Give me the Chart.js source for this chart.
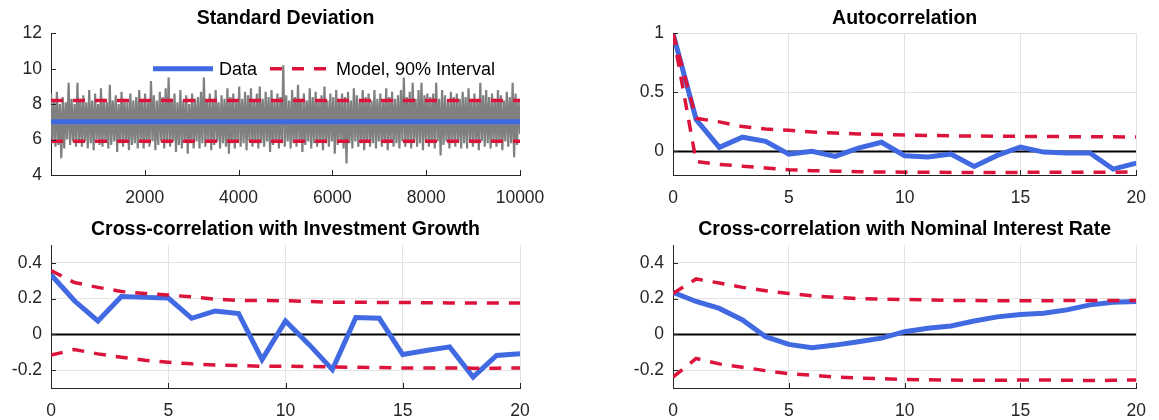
<!DOCTYPE html>
<html>
<head>
<meta charset="utf-8">
<title>Moments</title>
<script src="https://cdn.jsdelivr.net/npm/chart.js@4"></script>
<style>
  html, body { margin: 0; padding: 0; background: #fff; }
  #wrap { position: relative; width: 1159px; height: 420px; overflow: hidden; }
  .panel { position: absolute; }
  .panel canvas { display: block; }
</style>
</head>
<body>
<div id="wrap">
  <div class="panel" style="left:0;top:0"><canvas id="stdChart" width="580" height="210"></canvas></div>
  <div class="panel" style="left:580px;top:0"><canvas id="acfChart" width="579" height="210"></canvas></div>
  <div class="panel" style="left:0;top:210px"><canvas id="invChart" width="580" height="210"></canvas></div>
  <div class="panel" style="left:580px;top:210px"><canvas id="rateChart" width="579" height="210"></canvas></div>
</div>
<script>
// ---- data ----
const lags = [0, 1, 2, 3, 4, 5, 6, 7, 8, 9, 10, 11, 12, 13, 14, 15, 16, 17, 18, 19, 20];

// standard deviation panel
const stdDataLevel = 7.0;
const stdModelHigh = 8.2;
const stdModelLow = 5.9;
const stdRange = [1, 10000];
const stdXTicks = [2000, 4000, 6000, 8000, 10000];
const stdYTicks = [4, 6, 8, 10, 12];
// simulated std draws (high / low swings of the grey trace, left to right)
const stdSim = [
  8.6,5.8, 8.2,5.6, 8.7,5.7, 8.0,4.95, 8.4,5.5, 8.1,6.0, 9.2,5.7, 8.3,5.9, 8.0,5.6, 9.2,5.8,
  8.3,5.6, 8.5,5.9, 8.1,5.5, 8.8,5.8, 8.2,5.4, 8.6,6.0, 8.0,5.7, 8.9,5.6, 8.3,5.9, 8.1,5.5,
  9.1,5.7, 8.2,5.9, 8.5,5.3, 8.0,5.8, 8.7,5.6, 8.3,5.9, 8.1,5.4, 8.6,5.7, 8.2,5.8, 8.4,5.5,
  8.8,5.9, 8.3,5.5, 8.6,5.8, 8.1,5.6, 9.3,5.9, 8.5,5.4, 8.2,5.7, 8.7,5.9, 8.4,5.5, 8.9,5.8,
  9.5,5.6, 8.3,5.9, 8.6,5.3, 8.1,5.7, 8.8,5.5, 8.2,5.9, 8.5,5.2, 8.0,5.8, 8.6,5.5, 8.3,5.9,
  8.4,5.5, 8.7,5.8, 9.5,5.6, 8.2,5.9, 8.6,5.4, 8.3,5.7, 8.8,5.9, 8.1,5.5, 8.5,5.8, 8.3,5.6,
  8.9,5.2, 8.4,5.8, 8.6,5.5, 8.2,5.9, 9.0,5.6, 8.3,5.8, 8.7,5.4, 8.5,5.9, 8.9,5.6, 8.2,5.8,
  8.6,5.5, 9.0,5.8, 8.3,5.6, 8.7,5.9, 8.4,5.3, 8.8,5.7, 8.2,5.9, 8.6,5.5, 8.4,5.8, 10.2,5.6,
  8.5,5.9, 8.2,5.5, 8.8,5.8, 8.4,5.6, 9.1,5.9, 8.3,5.3, 8.6,5.7, 8.2,5.9, 8.9,5.5, 8.4,5.8,
  8.7,5.6, 8.3,5.9, 8.5,5.4, 9.0,5.8, 8.2,5.6, 8.6,5.9, 8.4,5.2, 8.8,5.7, 8.3,5.9, 8.6,5.5,
  8.4,4.65, 8.7,5.8, 8.2,5.5, 8.9,5.9, 8.5,5.6, 8.3,5.8, 8.8,5.4, 8.4,5.9, 8.6,5.6, 8.2,5.8,
  8.8,5.5, 8.3,5.9, 8.6,5.6, 8.2,5.8, 8.9,5.4, 8.4,5.9, 8.7,5.6, 8.3,5.8, 8.5,5.5, 8.8,5.9,
  9.5,5.6, 8.4,5.8, 8.7,5.5, 9.2,5.9, 8.3,5.6, 8.8,5.8, 9.2,5.4, 8.5,5.9, 8.6,5.6, 8.4,5.8,
  8.6,5.5, 9.2,5.9, 8.3,5.1, 8.8,5.7, 8.5,5.9, 8.2,5.5, 8.7,5.8, 8.4,5.6, 8.6,5.9, 8.3,5.5,
  8.7,5.8, 8.4,5.5, 8.9,5.9, 8.3,5.6, 8.6,5.8, 8.2,5.4, 9.2,5.9, 8.5,5.6, 8.8,5.8, 8.4,5.5,
  8.6,5.9, 8.3,5.6, 8.8,5.8, 8.5,5.4, 8.2,5.9, 8.7,5.6, 8.4,5.8, 9.2,5.0, 8.6,5.7, 8.3,6.3
];

// autocorrelation panel
const acfData  = [1.0, 0.27, 0.034, 0.12, 0.085, -0.023, 0.0, -0.043, 0.028, 0.077, -0.037, -0.048, -0.023, -0.128, -0.034, 0.037, -0.006, -0.014, -0.014, -0.15, -0.1];
const acfUpper = [1.0, 0.28, 0.25, 0.21, 0.19, 0.178, 0.165, 0.155, 0.148, 0.142, 0.138, 0.135, 0.132, 0.13, 0.128, 0.127, 0.126, 0.125, 0.124, 0.123, 0.122];
const acfLower = [1.0, -0.085, -0.11, -0.125, -0.14, -0.155, -0.163, -0.168, -0.172, -0.175, -0.176, -0.177, -0.178, -0.178, -0.178, -0.178, -0.177, -0.177, -0.176, -0.176, -0.175];
const acfYTicks = [0, 0.5, 1];

// cross-correlation with investment growth
const invData  = [0.334, 0.188, 0.075, 0.212, 0.207, 0.203, 0.09, 0.131, 0.116, -0.141, 0.075, -0.056, -0.197, 0.094, 0.09, -0.113, -0.09, -0.07, -0.239, -0.118, -0.109];
const invUpper = [0.357, 0.29, 0.263, 0.24, 0.229, 0.22, 0.21, 0.197, 0.19, 0.19, 0.188, 0.184, 0.18, 0.18, 0.178, 0.178, 0.177, 0.176, 0.176, 0.176, 0.176];
const invLower = [-0.116, -0.085, -0.109, -0.128, -0.145, -0.156, -0.165, -0.171, -0.175, -0.178, -0.178, -0.18, -0.182, -0.184, -0.186, -0.188, -0.188, -0.188, -0.189, -0.189, -0.188];

// cross-correlation with nominal interest rate
const rateData  = [0.235, 0.184, 0.145, 0.081, -0.013, -0.056, -0.075, -0.06, -0.041, -0.021, 0.015, 0.034, 0.047, 0.075, 0.098, 0.111, 0.118, 0.137, 0.165, 0.18, 0.184];
const rateUpper = [0.229, 0.31, 0.287, 0.263, 0.244, 0.229, 0.216, 0.207, 0.2, 0.197, 0.195, 0.193, 0.19, 0.189, 0.188, 0.188, 0.188, 0.189, 0.19, 0.19, 0.19];
const rateLower = [-0.239, -0.135, -0.165, -0.184, -0.203, -0.22, -0.229, -0.239, -0.244, -0.248, -0.252, -0.254, -0.255, -0.257, -0.257, -0.255, -0.255, -0.257, -0.258, -0.257, -0.255];
const ccfYTicks = [-0.2, 0, 0.2, 0.4];
const lagTicks = [0, 5, 10, 15, 20];

// ---- styling ----
const BLUE = '#4169e1';
const RED = '#dc143c';
const GREY = '#808080';
const AXIS = '#262626';
const GRID = '#e3e3e3';
const DASH = [12, 10];
const FONT = '"Liberation Sans", Arial, Helvetica, sans-serif';

Chart.defaults.font.family = FONT;
Chart.defaults.animation = false;

function pairs(xs, ys) {
  return xs.map((x, i) => ({ x: x, y: ys[i] }));
}

function blueLine(label, data) {
  return { label, data, borderColor: BLUE, backgroundColor: BLUE, borderWidth: 5,
           pointRadius: 0, tension: 0, fill: false, order: 2 };
}
function redLine(label, data) {
  return { label, data, borderColor: RED, backgroundColor: RED, borderWidth: 3.5, borderDash: DASH,
           pointRadius: 0, tension: 0, fill: false, order: 1 };
}
function zeroLine(xs) {
  return { label: 'zero', data: [{ x: xs[0], y: 0 }, { x: xs[xs.length - 1], y: 0 }],
           borderColor: '#000', borderWidth: 2, pointRadius: 0, fill: false, order: 3 };
}

function axes(opts) {
  const tickFont = { size: 17.5, family: FONT };
  return {
    x: {
      type: 'linear', min: opts.xMin, max: opts.xMax,
      afterBuildTicks: s => { s.ticks = opts.xTicks.map(v => ({ value: v })); },
      afterFit: s => { s.height = opts.xHeight; },
      grid: { display: opts.grid, color: GRID, drawTicks: false },
      border: { display: true, color: AXIS, width: 1 },
      ticks: { color: AXIS, font: tickFont, padding: 13, maxRotation: 0, autoSkip: false,
               callback: v => String(v) }
    },
    y: {
      type: 'linear', min: opts.yMin, max: opts.yMax,
      afterBuildTicks: s => { s.ticks = opts.yTicks.map(v => ({ value: v })); },
      afterFit: s => { s.width = opts.yWidth; },
      grid: { display: opts.grid, color: GRID, drawTicks: false },
      border: { display: true, color: AXIS, width: 1 },
      ticks: { color: AXIS, font: tickFont, padding: 9, autoSkip: false,
               callback: v => String(v) }
    }
  };
}

// title centred over the plot area, not the canvas
function titleOpts(text, top, bottom) {
  return { display: true, fullSize: false, text, color: '#000',
           font: { size: 19.5, weight: 'bold', family: FONT },
           padding: { top, bottom } };
}

// short inward tick marks on the left and bottom axes (matlab style)
const innerTicks = {
  id: 'innerTicks',
  afterDraw(chart) {
    const { ctx, chartArea } = chart;
    const xs = chart.scales.x, ys = chart.scales.y;
    ctx.save();
    ctx.strokeStyle = AXIS;
    ctx.lineWidth = 1;
    ctx.beginPath();
    xs.ticks.forEach(t => {
      const px = Math.round(xs.getPixelForValue(t.value)) + 0.5;
      ctx.moveTo(px, chartArea.bottom);
      ctx.lineTo(px, chartArea.bottom - 5);
    });
    ys.ticks.forEach(t => {
      const py = Math.round(ys.getPixelForValue(t.value)) + 0.5;
      ctx.moveTo(chartArea.left, py);
      ctx.lineTo(chartArea.left + 5, py);
    });
    ctx.stroke();
    ctx.restore();
  }
};

// legend drawn inside the std panel, on the y=10 level
const stdLegend = {
  id: 'stdLegend',
  afterDatasetsDraw(chart) {
    const ctx = chart.ctx;
    const y = chart.scales.y.getPixelForValue(10);
    let x = chart.chartArea.left + 102;
    const items = chart.data.datasets.filter(d => d.showInLegend);
    ctx.save();
    ctx.font = '18px ' + FONT;
    ctx.textBaseline = 'middle';
    items.forEach(d => {
      ctx.beginPath();
      ctx.strokeStyle = d.borderColor;
      ctx.lineWidth = d.borderWidth;
      ctx.setLineDash(d.borderDash || []);
      ctx.moveTo(x, y);
      ctx.lineTo(x + 60, y);
      ctx.stroke();
      ctx.setLineDash([]);
      x += 66;
      ctx.fillStyle = '#000';
      ctx.fillText(d.label, x, y + 1);
      x += ctx.measureText(d.label).width + 13;
    });
    ctx.restore();
  }
};

// ---- panel 1: standard deviation ----
const simX = stdSim.map((v, i) => stdRange[0] + i * (stdRange[1] - stdRange[0]) / (stdSim.length - 1));
const flat = lvl => [{ x: stdRange[0], y: lvl }, { x: stdRange[1], y: lvl }];

new Chart(document.getElementById('stdChart'), {
  type: 'line',
  data: {
    datasets: [
      { label: 'Simulated', data: pairs(simX, stdSim), borderColor: GREY, borderWidth: 2.2,
        pointRadius: 0, tension: 0, fill: false, order: 4 },
      Object.assign(blueLine('Data', flat(stdDataLevel)), { showInLegend: true }),
      Object.assign(redLine('Model, 90% Interval', flat(stdModelHigh)), { showInLegend: true }),
      redLine('Model low', flat(stdModelLow))
    ]
  },
  options: {
    responsive: false, devicePixelRatio: 1,
    layout: { padding: { left: 0, right: 60, top: 0, bottom: 0 } },
    plugins: { legend: { display: false }, tooltip: { enabled: false },
               title: titleOpts('Standard Deviation', 6.5, 3.4) },
    scales: axes({ xMin: stdRange[0], xMax: stdRange[1], xTicks: stdXTicks, xHeight: 35,
                   yMin: 4, yMax: 12, yTicks: stdYTicks, yWidth: 51, grid: false })
  },
  plugins: [stdLegend, innerTicks]
});

// ---- lag panels ----
function lagChart(id, title, data, upper, lower, yMin, yMax, yTicks, isTop) {
  const leftCol = id === 'invChart';
  new Chart(document.getElementById(id), {
    type: 'line',
    data: {
      datasets: [
        zeroLine(lags),
        blueLine('Data', pairs(lags, data)),
        redLine('Model upper', pairs(lags, upper)),
        redLine('Model lower', pairs(lags, lower))
      ]
    },
    options: {
      responsive: false, devicePixelRatio: 1,
      layout: { padding: { left: 0, right: leftCol ? 60 : 17, top: 0, bottom: 0 } },
      plugins: { legend: { display: false }, tooltip: { enabled: false },
                 title: isTop ? titleOpts(title, 6.5, 3.4) : titleOpts(title, 7.5, 4.1) },
      scales: axes({ xMin: 0, xMax: 20, xTicks: lagTicks, xHeight: isTop ? 35 : 32,
                     yMin, yMax, yTicks, yWidth: leftCol ? 51 : 93, grid: true })
    },
    plugins: [innerTicks]
  });
}

lagChart('acfChart', 'Autocorrelation', acfData, acfUpper, acfLower, -0.2, 1, acfYTicks, true);
lagChart('invChart', 'Cross-correlation with Investment Growth', invData, invUpper, invLower, -0.3, 0.5, ccfYTicks, false);
lagChart('rateChart', 'Cross-correlation with Nominal Interest Rate', rateData, rateUpper, rateLower, -0.3, 0.5, ccfYTicks, false);
</script>
</body>
</html>
